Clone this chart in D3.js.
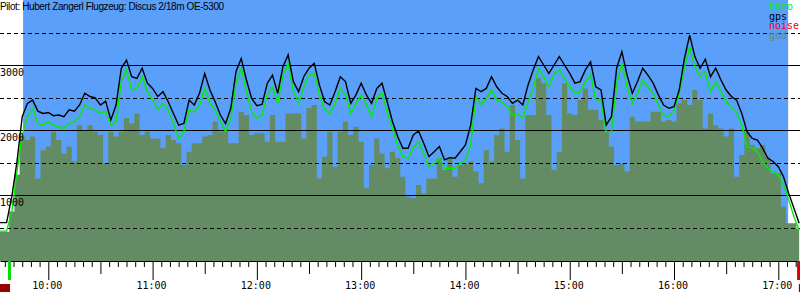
<!DOCTYPE html>
<html lang="de">
<head>
<meta charset="UTF-8">
<script src="https://d3js.org/d3.v7.min.js"></script>
<title>Barogramm</title>
<style>
  body { margin: 0; background: #fff; }
  svg { display: block; }
  text { font-family: 'DejaVu Sans Mono', monospace; font-size: 10px; }
  text.title { font-family: 'Liberation Sans', Arial, sans-serif; font-size: 10px; letter-spacing: -0.4px; }
</style>
</head>
<body>
<svg width="800" height="300"></svg>
<script>
const width = 800, height = 300;
const title = "Pilot: Hubert Zangerl Flugzeug: Discus 2/18m OE-5300";

// sample times (every 3 min)
const times = [
  "09:30","09:33","09:36","09:39","09:42","09:45","09:48","09:51","09:54","09:57",
  "10:00","10:03","10:06","10:09","10:12","10:15","10:18","10:21","10:24","10:27",
  "10:30","10:33","10:36","10:39","10:42","10:45","10:48","10:51","10:54","10:57",
  "11:00","11:03","11:06","11:09","11:12","11:15","11:18","11:21","11:24","11:27",
  "11:30","11:33","11:36","11:39","11:42","11:45","11:48","11:51","11:54","11:57",
  "12:00","12:03","12:06","12:09","12:12","12:15","12:18","12:21","12:24","12:27",
  "12:30","12:33","12:36","12:39","12:42","12:45","12:48","12:51","12:54","12:57",
  "13:00","13:03","13:06","13:09","13:12","13:15","13:18","13:21","13:24","13:27",
  "13:30","13:33","13:36","13:39","13:42","13:45","13:48","13:51","13:54","13:57",
  "14:00","14:03","14:06","14:09","14:12","14:15","14:18","14:21","14:24","14:27",
  "14:30","14:33","14:36","14:39","14:42","14:45","14:48","14:51","14:54","14:57",
  "15:00","15:03","15:06","15:09","15:12","15:15","15:18","15:21","15:24","15:27",
  "15:30","15:33","15:36","15:39","15:42","15:45","15:48","15:51","15:54","15:57",
  "16:00","16:03","16:06","16:09","16:12","16:15","16:18","16:21","16:24","16:27",
  "16:30","16:33","16:36","16:39","16:42","16:45","16:48","16:51","16:54","16:57",
  "17:00","17:03","17:06","17:09","17:12"
];

// altitudes in m
const gps = [
  575,575,575,975,1515,2205,2410,2460,2290,2255,
  2270,2220,2230,2205,2310,2290,2385,2565,2515,2495,
  2385,2445,2155,2385,2950,3075,2820,2795,2950,2720,
  2640,2515,2590,2435,2255,2075,2100,2460,2385,2565,
  2870,2615,2435,2230,2100,2335,2900,3100,2770,2485,
  2375,2395,2720,2845,2565,2975,3155,2745,2590,2820,
  2950,3025,2690,2435,2385,2590,2820,2745,2410,2540,
  2720,2540,2410,2640,2720,2435,2130,1900,1720,1720,
  1925,1985,1795,1590,1665,1745,1540,1575,1565,1665,
  1770,2075,2640,2590,2640,2820,2665,2565,2515,2410,
  2460,2385,2690,2925,3130,3000,2870,3000,3130,3000,
  2870,2720,2745,2925,3050,2665,2615,2075,2205,2950,
  3205,2845,2565,2745,2950,2845,2720,2540,2385,2335,
  2360,2615,3100,3460,3130,2950,3090,2820,2950,2770,
  2615,2515,2460,2255,1975,1870,1845,1720,1565,1515,
  1435,1280,1025,795,565
];
const baro = [
  445,445,445,745,1360,1925,2205,2335,2100,2075,
  2130,2075,2050,2025,2100,2130,2205,2385,2335,2310,
  2255,2290,2075,2130,2745,2925,2615,2640,2820,2590,
  2460,2310,2410,2310,2100,1870,1975,2310,2280,2385,
  2640,2410,2310,2130,1975,2180,2720,2950,2590,2280,
  2180,2230,2540,2665,2410,2845,3025,2590,2410,2665,
  2845,2870,2540,2310,2255,2410,2640,2540,2255,2410,
  2540,2385,2205,2485,2565,2280,2025,1770,1590,1565,
  1720,1820,1640,1435,1485,1565,1410,1410,1410,1485,
  1540,1770,2515,2385,2485,2615,2460,2435,2360,2230,
  2255,2180,2435,2640,2950,2820,2665,2870,2925,2795,
  2665,2565,2590,2745,2845,2460,2460,1975,1975,2720,
  3025,2665,2410,2565,2770,2665,2565,2385,2230,2205,
  2310,2565,2950,3280,2975,2820,2900,2590,2745,2590,
  2435,2360,2280,2075,1745,1720,1665,1515,1410,1360,
  1310,1155,925,665,460
];
const gnd = [
  435,435,435,745,1310,1900,1845,1900,1255,1690,
  1745,1975,1845,1640,1745,1515,2075,2000,2075,1975,
  1925,1485,1975,1900,1975,2180,2100,2255,1925,1975,
  1870,1870,1720,1925,1845,1795,1460,1665,1795,1795,
  1900,1925,2130,1975,2000,1795,1795,2280,2230,1925,
  1950,1950,1820,2230,1820,1820,2255,2255,2255,1870,
  2335,2385,1255,1590,1975,1435,1975,2130,1925,2050,
  1820,1105,1460,1870,1640,1410,1665,1565,1280,975,
  950,1155,1025,1255,1255,1565,1385,1565,1280,1460,
  1485,1515,1360,1180,1690,1515,1925,2025,1665,2385,
  1845,1255,2230,2230,2795,2720,2230,1385,1665,2720,
  2255,2230,2460,2640,2310,2310,2155,1975,1745,1460,
  1485,1360,2205,2130,2130,2130,2280,2280,2130,2155,
  2130,2410,2460,2385,2615,2460,2025,2255,2075,2025,
  1900,2025,1280,1615,1975,1770,1720,1770,1590,1335,
  1335,820,565,565,485
];

const altGrid = [500, 1000, 1500, 2000, 2500, 3000, 3500];
const altLabels = [1000, 2000, 3000];
const hourLabels = ["10:00","11:00","12:00","13:00","14:00","15:00","16:00","17:00"];
const timeRange = ["09:32:13", "17:12:29"];
const taskWindow = ["09:45:30", "17:05:40"];
const takeoff = "09:37:40", landing = "17:11:40";
const noiseSpans = [["09:30:00", "09:38:00"], ["17:11:50", "17:13:00"]];
const legend = [
  {name: "baro", color: "#00ee00"},
  {name: "gps", color: "#000000"},
  {name: "noise", color: "#ff0000"},
  {name: "gnd", color: "#6b8a6b"}
];

const parseT = s => d3.timeParse(s.length > 5 ? "%H:%M:%S" : "%H:%M")(s);

const x = d3.scaleTime().domain(timeRange.map(parseT)).range([0, width]);
const y = d3.scaleLinear().domain([0, 4000]).range([260, 0]);
const base = 261;

const svg = d3.select("svg");
const pts = times.map((t, i) => ({t: parseT(t), gps: gps[i], baro: baro[i], gnd: gnd[i]}));

// sky between start and finish
svg.append("rect")
    .attr("x", x(parseT(taskWindow[0]))).attr("y", 0)
    .attr("width", x(parseT(taskWindow[1])) - x(parseT(taskWindow[0])))
    .attr("height", base)
    .attr("fill", "#5a9ffa");

// ground
svg.append("path").datum(pts)
    .attr("fill", "#648c64")
    .attr("d", d3.area().curve(d3.curveStep)
        .x(d => x(d.t)).y0(base).y1(d => y(d.gnd)));

// grid
svg.append("g").selectAll("line").data(altGrid).join("line")
    .attr("x1", 0).attr("x2", width)
    .attr("y1", d => Math.round(y(d)) + 0.5).attr("y2", d => Math.round(y(d)) + 0.5)
    .attr("stroke", "#000").attr("stroke-width", 1)
    .attr("stroke-dasharray", d => d % 1000 ? "4,3" : null);

// baro + gps
svg.append("path").datum(pts)
    .attr("fill", "none").attr("stroke", "#00ee00").attr("stroke-width", 1.4)
    .attr("d", d3.line().x(d => x(d.t)).y(d => y(d.baro)));
svg.append("path").datum(pts)
    .attr("fill", "none").attr("stroke", "#000").attr("stroke-width", 1.4)
    .attr("d", d3.line().x(d => x(d.t)).y(d => y(d.gps)));

// altitude labels
svg.append("g").selectAll("text").data(altLabels).join("text")
    .attr("x", 0).attr("y", d => Math.round(y(d)) + 10.5)
    .text(d => d);

// time axis
const axis = d3.axisBottom(x)
    .ticks(d3.timeMinute.every(5))
    .tickSizeOuter(0)
    .tickFormat("");
const gx = svg.append("g").attr("transform", `translate(0,${base})`).call(axis);
gx.selectAll(".tick line")
    .attr("y2", d => d.getMinutes() === 0 ? 19 : d.getMinutes() === 30 ? 13 : 6);
gx.select(".domain").attr("stroke", "#000");

svg.append("g").selectAll("text").data(hourLabels).join("text")
    .attr("x", d => x(parseT(d)) - 1).attr("y", 289)
    .attr("text-anchor", "middle")
    .text(d => d);

// takeoff / landing markers
svg.append("rect")
    .attr("x", x(parseT(takeoff)) - 1.5).attr("y", base).attr("width", 3).attr("height", 19)
    .attr("fill", "#00dd00");
svg.append("rect")
    .attr("x", x(parseT(landing)) - 1.5).attr("y", base).attr("width", 3).attr("height", 19)
    .attr("fill", "#dd0000");

// engine noise
svg.append("g").selectAll("rect").data(noiseSpans).join("rect")
    .attr("x", d => x(parseT(d[0]))).attr("y", 284)
    .attr("width", d => x(parseT(d[1])) - x(parseT(d[0]))).attr("height", 8)
    .attr("fill", "#990000");

// title + legend
svg.append("text").attr("class", "title").attr("x", 0).attr("y", 10).text(title);
svg.append("g").selectAll("text").data(legend).join("text")
    .attr("x", 769).attr("y", (d, i) => 10 + i * 9.7)
    .attr("fill", d => d.color)
    .text(d => d.name);
</script>
</body>
</html>
